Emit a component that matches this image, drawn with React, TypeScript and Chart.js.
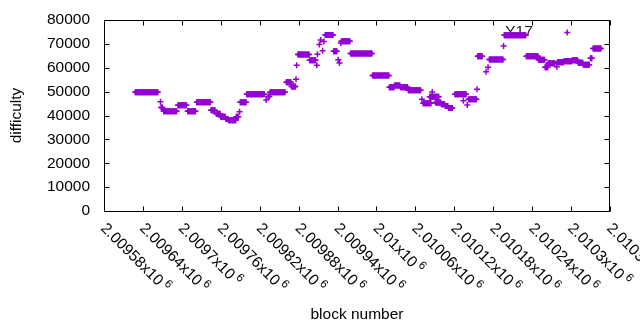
import { useEffect, useRef } from 'react';
import { Chart, registerables } from 'chart.js';

Chart.register(...registerables);

// Runs of constant difficulty (first block, last block, difficulty); single blocks have first == last
const runStartBlock = [
  2009628, 2009667, 2009668, 2009672, 2009694, 2009709, 2009723, 2009745, 2009753, 2009760,
  2009768, 2009772, 2009784, 2009789, 2009790, 2009800, 2009830, 2009833, 2009836, 2009861,
  2009869, 2009876, 2009877, 2009879, 2009897, 2009908, 2009909, 2009912, 2009914, 2009917,
  2009919, 2009921, 2009934, 2009941, 2009943, 2009945, 2009946, 2009960, 2009994, 2010020,
  2010028, 2010037, 2010049, 2010070, 2010072, 2010082, 2010086, 2010091, 2010100, 2010106,
  2010111, 2010121, 2010134, 2010140, 2010142, 2010155, 2010156, 2010169, 2010172, 2010174,
  2010196, 2010197, 2010231, 2010250, 2010260, 2010265, 2010278, 2010279, 2010289, 2010294,
  2010302, 2010311, 2010319, 2010330, 2010334,
];
const runEndBlock = [
  2009663, 2009667, 2009670, 2009692, 2009707, 2009721, 2009744, 2009751, 2009759, 2009767,
  2009771, 2009783, 2009787, 2009789, 2009799, 2009827, 2009830, 2009835, 2009859, 2009868,
  2009875, 2009876, 2009877, 2009896, 2009906, 2009908, 2009909, 2009912, 2009914, 2009917,
  2009919, 2009933, 2009939, 2009941, 2009943, 2009945, 2009959, 2009993, 2010019, 2010027,
  2010036, 2010048, 2010068, 2010070, 2010084, 2010096, 2010086, 2010099, 2010105, 2010110,
  2010117, 2010138, 2010134, 2010140, 2010154, 2010155, 2010163, 2010169, 2010172, 2010195,
  2010196, 2010230, 2010249, 2010259, 2010264, 2010275, 2010278, 2010288, 2010301, 2010294,
  2010310, 2010318, 2010328, 2010332, 2010346,
];
const runDifficulty = [
  49700, 45800, 43400, 41750, 44300, 41750, 45500, 42200, 40750, 39500,
  38500, 38000, 39500, 41600, 45500, 48900, 46500, 48000, 49700, 53900,
  52100, 55150, 61000, 65600, 63100, 61000, 65700, 69700, 71600, 67100,
  71000, 73700, 66900, 63400, 62000, 70400, 71100, 66000, 56800, 51800,
  52600, 51800, 50600, 46800, 45100, 47900, 49800, 45400, 44700, 44000,
  43100, 48900, 46200, 44400, 46800, 51000, 64800, 58300, 60200, 63500,
  69100, 73600, 64800, 63400, 60200, 61900, 60400, 62300, 62700, 74800,
  63100, 62100, 61300, 64000, 68100,
];

const xTickValues = [
  2009580, 2009640, 2009700, 2009760, 2009820, 2009880, 2009940,
  2010000, 2010060, 2010120, 2010180, 2010240, 2010300, 2010360,
];
const xTickLabels = [
  '2.00958', '2.00964', '2.0097', '2.00976', '2.00982', '2.00988', '2.00994',
  '2.01', '2.01006', '2.01012', '2.01018', '2.01024', '2.0103', '2.01036',
];
const yTickValues = [0, 10000, 20000, 30000, 40000, 50000, 60000, 70000, 80000];

const annotationText = 'Y17';
const annotationBlock = 2010200;
const annotationDifficulty = 75000;

const FONT = '"Liberation Sans", Arial, sans-serif';
const FONT_SIZE = 15.5;
const COLOR = '#9400D3';

const framePlugin = {
  id: 'gnuplotFrame',
  beforeDatasetsDraw(chart: any) {
    const { ctx, scales } = chart;
    const x = scales.x;
    const y = scales.y;
    ctx.save();
    ctx.font = `${FONT_SIZE}px ${FONT}`;
    ctx.fillStyle = '#1a1a1a';
    ctx.textAlign = 'left';
    ctx.textBaseline = 'middle';
    ctx.fillText(annotationText, x.getPixelForValue(annotationBlock) - 1, y.getPixelForValue(annotationDifficulty));
    ctx.restore();
  },
  afterDraw(chart: any) {
    const { ctx, chartArea, scales } = chart;
    const x = scales.x;
    const y = scales.y;
    const L = Math.round(chartArea.left) + 0.5;
    const R = Math.round(chartArea.right) - 0.5;
    const T = Math.round(chartArea.top) + 0.5;
    const B = Math.round(chartArea.bottom) + 0.5;
    ctx.save();
    ctx.strokeStyle = '#000';
    ctx.lineWidth = 1;
    ctx.strokeRect(L, T, R - L, B - T);
    ctx.beginPath();
    const tl = 5;
    yTickValues.forEach((v) => {
      const py = Math.round(y.getPixelForValue(v)) + 0.5;
      ctx.moveTo(L, py);
      ctx.lineTo(L + tl, py);
      ctx.moveTo(R, py);
      ctx.lineTo(R - tl, py);
    });
    xTickValues.forEach((v) => {
      const px = Math.round(x.getPixelForValue(v)) + 0.5;
      ctx.moveTo(px, B);
      ctx.lineTo(px, B - tl);
      ctx.moveTo(px, T);
      ctx.lineTo(px, T + tl);
    });
    ctx.stroke();

    ctx.fillStyle = '#000';
    ctx.textAlign = 'left';
    ctx.textBaseline = 'middle';
    xTickValues.forEach((v, i) => {
      const px = x.getPixelForValue(v);
      const main = xTickLabels[i] + 'x10';
      ctx.save();
      ctx.translate(px - 1, chartArea.bottom + 15);
      ctx.rotate(Math.PI / 4);
      ctx.font = `${FONT_SIZE}px ${FONT}`;
      ctx.fillText(main, 0, 0);
      const w = ctx.measureText(main).width;
      ctx.font = `${FONT_SIZE * 0.75}px ${FONT}`;
      ctx.fillText('6', w + 3, -5);
      ctx.restore();
    });
    ctx.restore();
  },
};

export default function App() {
  const canvasRef = useRef<HTMLCanvasElement | null>(null);

  useEffect(() => {
    const canvas = canvasRef.current;
    if (!canvas) return;
    const points: { x: number; y: number }[] = [];
    runStartBlock.forEach((start, i) => {
      for (let b = start; b <= runEndBlock[i]; b++) {
        points.push({ x: b, y: runDifficulty[i] });
      }
    });

    const chart = new Chart(canvas, {
      type: 'scatter',
      data: {
        datasets: [
          {
            label: 'difficulty',
            data: points,
            pointStyle: 'cross',
            pointRadius: 3,
            pointHoverRadius: 3,
            borderColor: COLOR,
            backgroundColor: COLOR,
            pointBorderWidth: 1.5,
            borderWidth: 1.5,
            showLine: false,
          },
        ],
      },
      options: {
        animation: false,
        responsive: false,
        events: [],
        layout: { padding: { top: 20, right: 30, left: 0, bottom: 0 } },
        plugins: {
          legend: { display: false },
          tooltip: { enabled: false },
        },
        scales: {
          x: {
            type: 'linear',
            min: xTickValues[0],
            max: xTickValues[xTickValues.length - 1],
            grid: { display: false, drawTicks: false },
            border: { display: false },
            ticks: { display: false },
            title: {
              display: true,
              text: 'block number',
              color: '#000',
              font: { family: FONT, size: FONT_SIZE },
              padding: { top: 0, bottom: 5.7 },
            },
            afterFit: (scale: any) => {
              scale.height = 119;
              scale.paddingLeft = 0;
              scale.paddingRight = 0;
            },
          },
          y: {
            type: 'linear',
            min: yTickValues[0],
            max: yTickValues[yTickValues.length - 1],
            grid: { display: false, drawTicks: false },
            border: { display: false },
            ticks: {
              stepSize: 10000,
              color: '#000',
              padding: 14,
              font: { family: FONT, size: FONT_SIZE },
              callback: (v: any) => String(v),
            },
            title: {
              display: true,
              text: 'difficulty',
              color: '#000',
              font: { family: FONT, size: FONT_SIZE },
              padding: { top: 7.7, bottom: 0 },
            },
            afterFit: (scale: any) => {
              scale.width = 104;
              scale.paddingTop = 0;
              scale.paddingBottom = 0;
            },
          },
        },
      },
      plugins: [framePlugin],
    });

    return () => {
      chart.destroy();
    };
  }, []);

  return (
    <div style={{ position: 'fixed', left: 0, top: 0, width: 640, height: 330, background: '#fff' }}>
      <canvas ref={canvasRef} width={640} height={330} style={{ display: 'block' }} />
    </div>
  );
}
